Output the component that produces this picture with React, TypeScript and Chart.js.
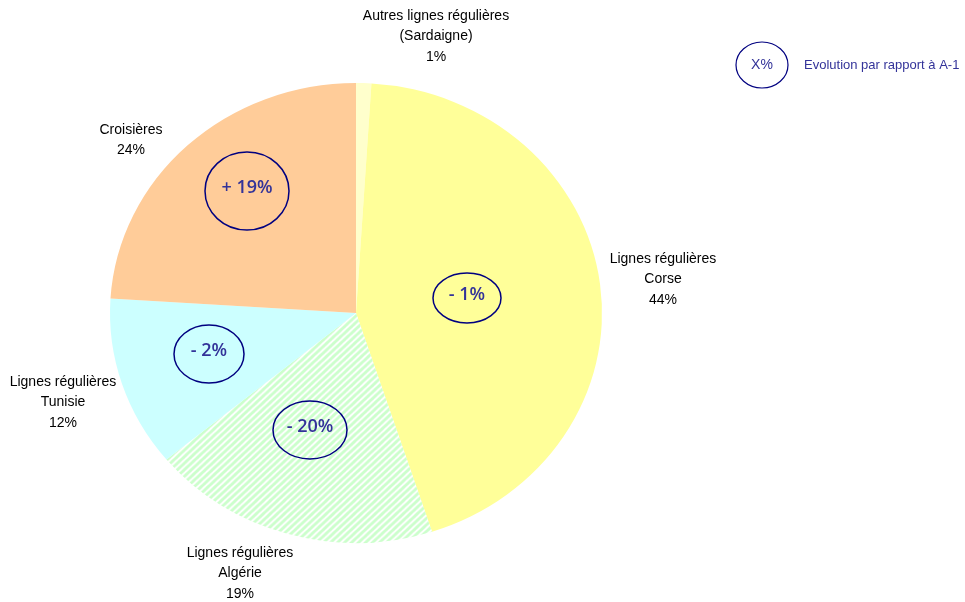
import React, { useEffect, useRef } from "react";
import { Chart, registerables } from "chart.js";

Chart.register(...registerables);

const categories = [
  "Autres lignes régulières (Sardaigne)",
  "Lignes régulières Corse",
  "Lignes régulières Algérie",
  "Lignes régulières Tunisie",
  "Croisières",
];
const shares = [1, 44, 19, 12, 24];
const evolutions = ["", "- 1%", "- 20%", "- 2%", "+ 19%"];
const labelLines = [
  ["Autres lignes régulières", "(Sardaigne)", "1%"],
  ["Lignes régulières", "Corse", "44%"],
  ["Lignes régulières", "Algérie", "19%"],
  ["Lignes régulières", "Tunisie", "12%"],
  ["Croisières", "24%"],
];
const legendSymbol = "X%";
const legendText = "Evolution par rapport à A-1";

const sliceColors = ["#FFFFCC", "#FFFF99", "HATCH", "#CCFFFF", "#FFCC99"];

// label anchors (x of centre, y of first line) and evolution ellipses
const labelPos = [
  [436, 16],
  [663, 259],
  [240, 553],
  [63, 382],
  [131, 130],
];
const ellipsePos = [
  null,
  [467, 298, 34, 25],
  [310, 430, 37, 29],
  [209, 354, 35, 29],
  [247, 191, 42, 39],
];

const CX = 356;
const CY = 313;
const RX = 246;
const RY = 230;

function makeHatch(): CanvasPattern | string {
  const s = 7;
  const c = document.createElement("canvas");
  c.width = s;
  c.height = s;
  const g = c.getContext("2d");
  if (!g) return "#CCFFCC";
  g.fillStyle = "#ffffff";
  g.fillRect(0, 0, s, s);
  g.strokeStyle = "#CCFFCC";
  g.lineWidth = 3;
  g.beginPath();
  for (let k = -2; k <= 2; k++) {
    g.moveTo(k * s - 1, s + 1);
    g.lineTo(k * s + s + 1, -1);
  }
  g.stroke();
  const p = g.createPattern(c, "repeat");
  return p || "#CCFFCC";
}

export default function App() {
  const ref = useRef<HTMLCanvasElement | null>(null);

  useEffect(() => {
    document.body.style.margin = "0";
    const canvas = ref.current;
    if (!canvas) return;
    const hatch = makeHatch();
    const colors = sliceColors.map((c) => (c === "HATCH" ? hatch : c));

    const squash = {
      id: "squash",
      beforeDatasetsDraw(chart: any) {
        const ctx = chart.ctx;
        ctx.save();
        ctx.translate(CX, CY);
        ctx.scale(1, RY / RX);
        ctx.translate(-CX, -CY);
      },
      afterDatasetsDraw(chart: any) {
        chart.ctx.restore();
      },
    };

    const annotations = {
      id: "annotations",
      afterDraw(chart: any) {
        const ctx = chart.ctx;
        ctx.save();
        // category labels
        ctx.fillStyle = "#000000";
        ctx.font = '14px "Liberation Sans Narrow", "Liberation Sans", Arial, sans-serif';
        ctx.textAlign = "center";
        ctx.textBaseline = "middle";
        labelLines.forEach((lines, i) => {
          const [x, y] = labelPos[i];
          lines.forEach((t, j) => ctx.fillText(t, x, y + j * 20.5));
        });
        // evolution ellipses
        ctx.strokeStyle = "#000080";
        ctx.lineWidth = 1.5;
        evolutions.forEach((t, i) => {
          const e = ellipsePos[i];
          if (!e || !t) return;
          ctx.beginPath();
          ctx.ellipse(e[0], e[1], e[2], e[3], 0, 0, Math.PI * 2);
          ctx.stroke();
          ctx.fillStyle = "#333399";
          ctx.font = '600 18px "Open Sans", "DejaVu Sans", sans-serif';
          ctx.fillText(t, e[0], e[1] - 3);
        });
        // legend
        ctx.lineWidth = 1.2;
        ctx.beginPath();
        ctx.ellipse(762, 65, 26, 23, 0, 0, Math.PI * 2);
        ctx.stroke();
        ctx.fillStyle = "#333399";
        ctx.font = '14px "Liberation Sans", Arial, sans-serif';
        ctx.fillText(legendSymbol, 762, 65);
        ctx.textAlign = "left";
        ctx.font = '13px "Liberation Sans", Arial, sans-serif';
        ctx.fillText(legendText, 804, 65);
        ctx.restore();
      },
    };

    const chart = new Chart(canvas, {
      type: "pie",
      data: {
        labels: categories,
        datasets: [
          {
            data: shares,
            backgroundColor: colors as any,
            borderWidth: 0,
          },
        ],
      },
      options: {
        responsive: false,
        animation: false,
        layout: {
          padding: { left: CX - RX, right: 965 - CX - RX, top: CY - RX, bottom: 602 - CY - RX },
        },
        plugins: {
          legend: { display: false },
          tooltip: { enabled: false },
        },
      },
      plugins: [squash, annotations],
    });
    return () => chart.destroy();
  }, []);

  return (
    <div style={{ width: 965, height: 602, background: "#fff" }}>
      <canvas ref={ref} width={965} height={602} style={{ display: "block" }} />
    </div>
  );
}
